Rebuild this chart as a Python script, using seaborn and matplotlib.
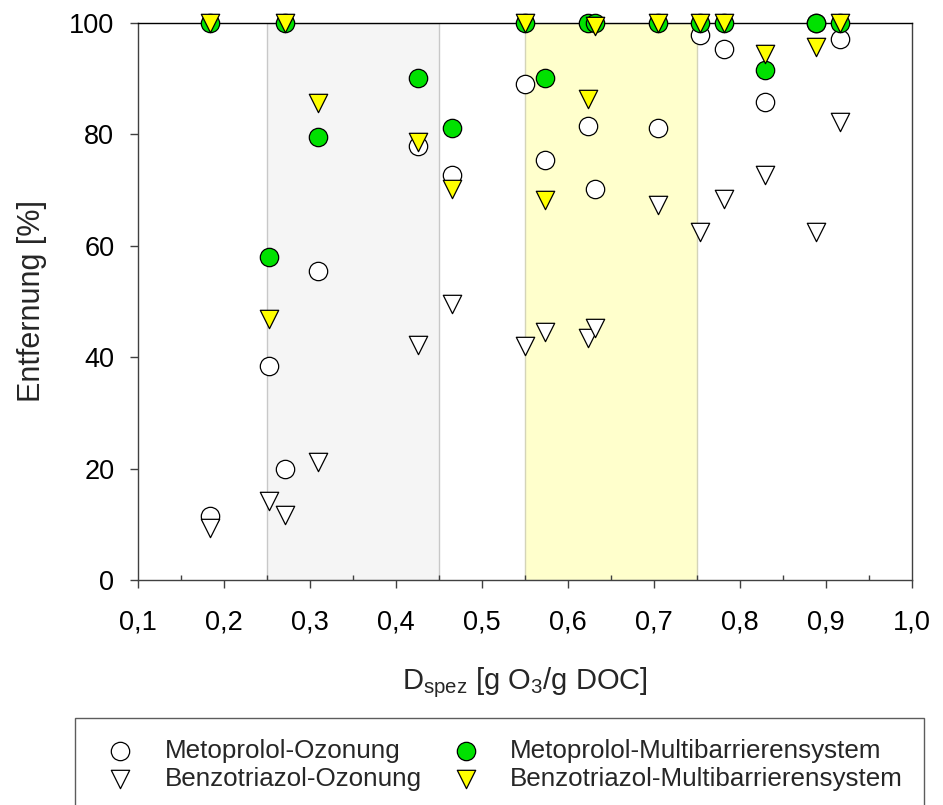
import matplotlib
matplotlib.use("Agg")
import matplotlib.pyplot as plt
import seaborn as sns
from matplotlib.ticker import MultipleLocator, FuncFormatter, NullLocator

# specific ozone dose [g O3 / g DOC]
dose = [0.184, 0.2525, 0.271, 0.309, 0.426, 0.4655, 0.55, 0.573,
        0.623, 0.631, 0.705, 0.753, 0.782, 0.829, 0.888, 0.916]

# removal [%]
metoprolol_ozon = [11.5, 38.4, 19.9, 55.4, 77.8, 72.6, 89.0, 75.3,
                   81.4, 70.2, 81.0, 97.7, 95.2, 85.8, 100.0, 97.0]
benzotriazol_ozon = [9.3, 14.1, 11.6, 21.1, 42.2, 49.5, 42.0, 44.4,
                     43.4, 45.2, 67.3, 62.5, 68.4, 72.6, 62.5, 82.1]
metoprolol_multi = [100.0, 58.0, 100.0, 79.4, 90.1, 81.0, 100.0, 90.0,
                    100.0, 100.0, 100.0, 100.0, 100.0, 91.4, 100.0, 100.0]
benzotriazol_multi = [100.0, 46.8, 100.0, 85.5, 78.5, 70.2, 100.0, 68.2,
                      86.2, 99.4, 100.0, 100.0, 100.0, 94.3, 95.6, 100.0]

labels = ["Metoprolol-Ozonung", "Benzotriazol-Ozonung",
          "Metoprolol-Multibarrierensystem", "Benzotriazol-Multibarrierensystem"]

sns.set_style("ticks")
plt.rcParams["font.family"] = ["Liberation Sans", "DejaVu Sans"]
plt.rcParams["mathtext.default"] = "regular"

fig = plt.figure(figsize=(9.43, 8.05), dpi=100)
ax = fig.add_axes([0.1463, 0.2795, 0.8208, 0.6925])

# shaded dose ranges
ax.axvspan(0.25, 0.45, facecolor="#f5f5f5", edgecolor="#c8c8c8", lw=1, zorder=0)
ax.axvspan(0.55, 0.75, facecolor="#ffffcc", edgecolor="#d4d4b8", lw=1, zorder=0)

series = [
    (metoprolol_ozon, "white", "o"),
    (benzotriazol_ozon, "white", "v"),
    (metoprolol_multi, "#00e100", "o"),
    (benzotriazol_multi, "#ffff00", "v"),
]
for i, (vals, col, mk) in enumerate(series):
    sns.scatterplot(x=dose, y=vals, ax=ax, color=col, marker=mk, s=175,
                    edgecolor="black", linewidth=0.9, clip_on=False,
                    zorder=3 + i, label=labels[i], legend=False)

ax.set_xlim(0.1, 1.0)
ax.set_ylim(0, 100)
ax.xaxis.set_major_locator(MultipleLocator(0.1))
ax.xaxis.set_minor_locator(MultipleLocator(0.05))
ax.xaxis.set_major_formatter(FuncFormatter(lambda v, p: f"{v:.1f}".replace(".", ",")))
ax.set_yticks(range(0, 101, 20))
ax.yaxis.set_minor_locator(NullLocator())

ax.tick_params(which="major", direction="out", length=6, width=1,
               labelsize=19.5, pad=11, color="#404040", labelcolor="black")
ax.tick_params(axis="x", which="major", pad=15)
ax.tick_params(axis="x", which="minor", direction="in", length=3.5, width=1,
               color="#404040")
for name, sp in ax.spines.items():
    sp.set_visible(True)
    sp.set_linewidth(1.0)
    sp.set_color("black" if name == "top" else "#404040")

ax.set_xlabel(r"D$_{spez}$ [g O$_3$/g DOC]", fontsize=21, labelpad=22)
ax.set_ylabel("Entfernung [%]", fontsize=22, labelpad=16)

handles, labs = ax.get_legend_handles_labels()
leg = fig.legend(handles, labs, loc="upper left",
                 bbox_to_anchor=(75 / 943, 0, 849 / 943, 1 - 718 / 805),
                 mode="expand", ncol=2, frameon=True, fancybox=False,
                 edgecolor="#333333", fontsize=18.7, handlelength=1.85,
                 handletextpad=0.8, borderpad=0.8, labelspacing=0.15,
                 borderaxespad=0, scatterpoints=1)
leg.get_frame().set_linewidth(1.0)

fig.savefig("out.png", dpi=100)
